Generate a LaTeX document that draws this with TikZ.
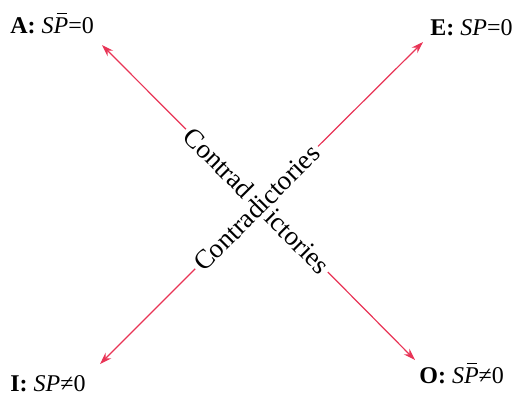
\documentclass[tikz,border=0pt]{standalone}
\usepackage{fontspec}
\setmainfont{Liberation Serif}
\usepackage{xcolor}
\usepackage{tikz}
\usetikzlibrary{arrows.meta}
\definecolor{contrared}{RGB}{232,52,86}
\newcommand{\Pbar}{\textit{P}\llap{\rule[0.8em]{0.42em}{0.045em}\hspace{0.06em}}}

\begin{document}
\begin{tikzpicture}[
 x=0.5pt, y=-0.5pt,
 >={Stealth[length=6pt,width=4pt]},
 lbl/.style={anchor=base west, inner sep=0pt, font=\fontsize{12}{14}\selectfont},
 diag/.style={inner sep=1.5pt, font=\fontsize{13.5}{16}\selectfont},
 con/.style={->, draw=contrared, line width=0.6pt},
]
\useasboundingbox (0,0) rectangle (514,397);
% corner statements
\node[lbl] (A) at (10,33) {\textbf{A:} \textit{S}\Pbar=0};
\node[lbl] (E) at (430,35) {\textbf{E:} \textit{SP}=0};
\node[lbl] (I) at (10,391) {\textbf{I:} \textit{SP}≠0};
\node[lbl] (O) at (419,383) {\textbf{O:} \textit{S}\Pbar≠0};
% arrow tips
\coordinate (tipA) at (102,45);
\coordinate (tipE) at (423,42);
\coordinate (tipI) at (100,364);
\coordinate (tipO) at (415,360);
% crossing labels
\node[diag, rotate=-45] (c1) at (257,200.5) {Contrad\hspace{14pt}ictories};
\node[diag, rotate=45] (c2) at (256.5,207.5) {Contradictories};
\draw[con] (c1) -- (tipA);
\draw[con] (c1) -- (tipO);
\draw[con] (c2) -- (tipE);
\draw[con] (c2) -- (tipI);
\end{tikzpicture}
\end{document}
